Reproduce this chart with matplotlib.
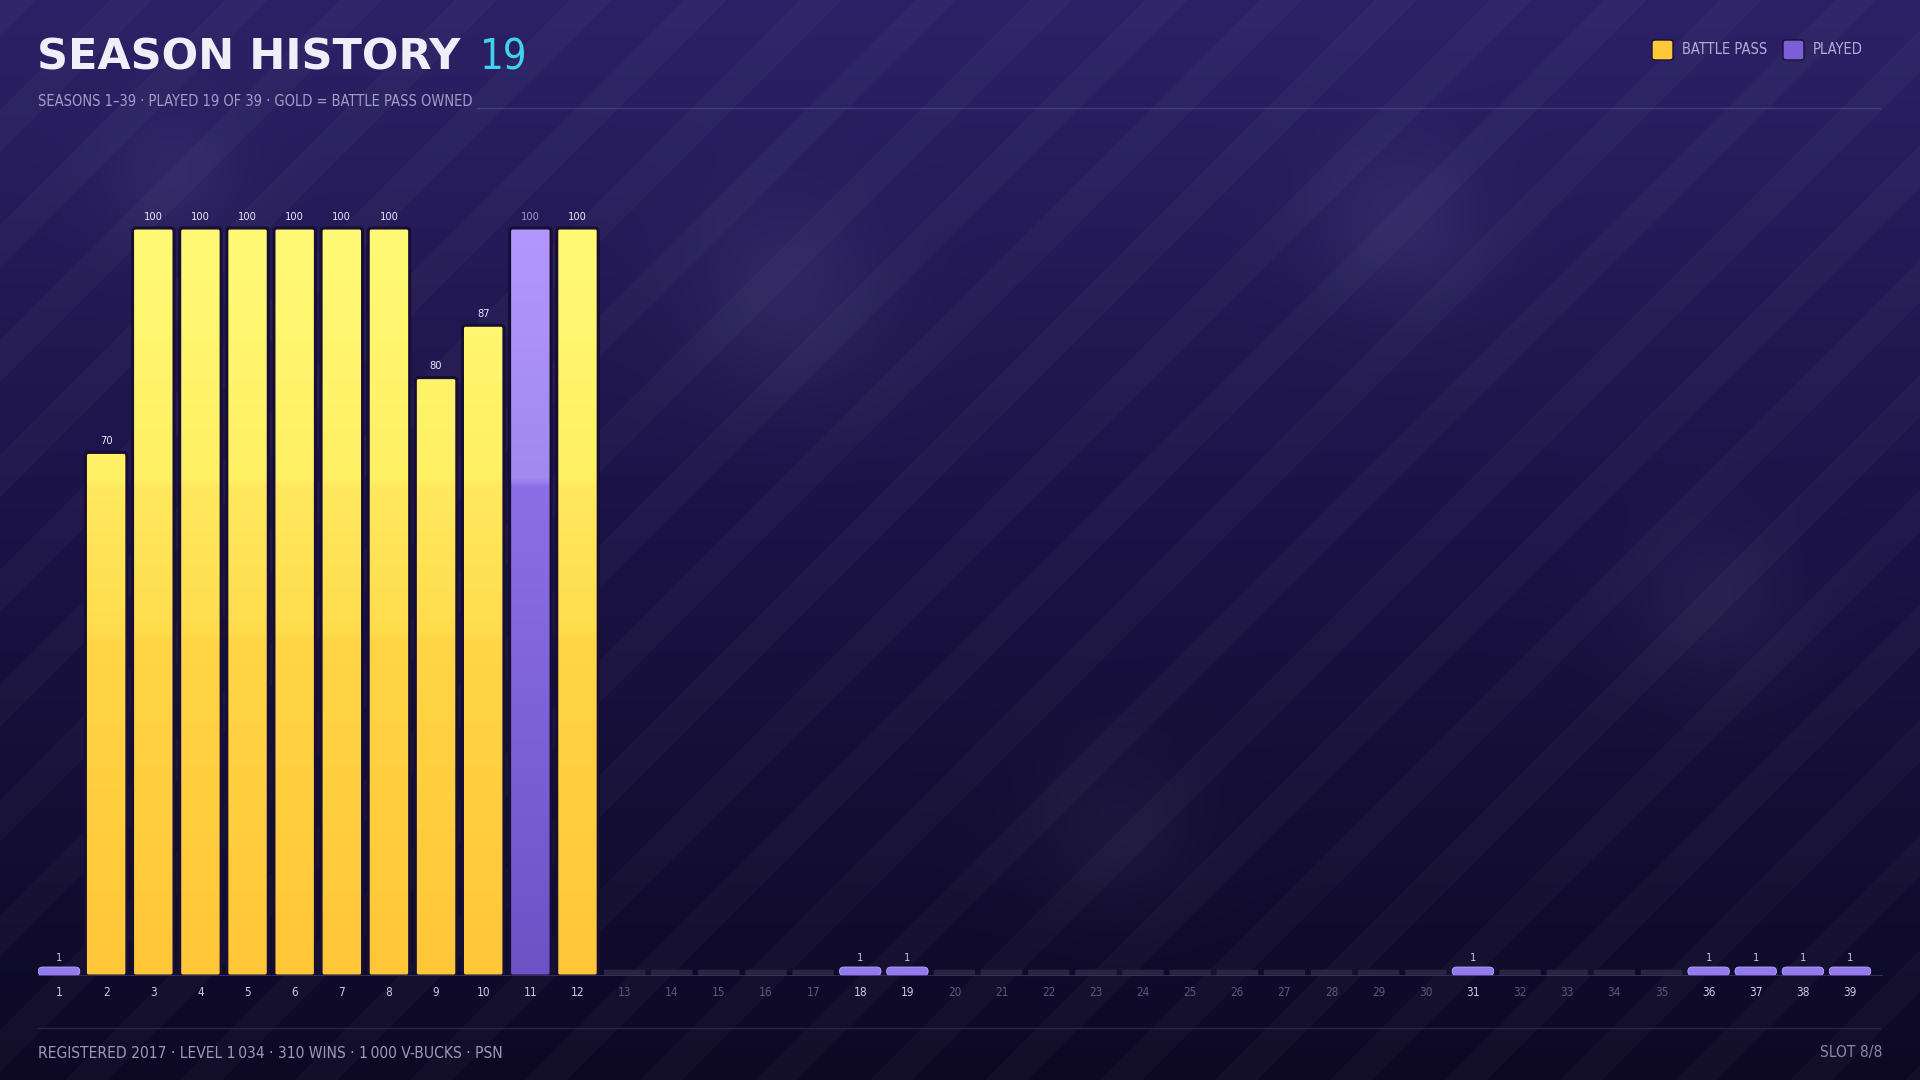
import numpy as np
import matplotlib.pyplot as plt
from matplotlib.patches import FancyBboxPatch, Polygon
from matplotlib.colors import LinearSegmentedColormap

# ---- data ----
seasons = list(range(1, 40))
progress = [1, 70, 100, 100, 100, 100, 100, 100, 80, 87, 100, 100,
            0, 0, 0, 0, 0, 1, 1, 0, 0, 0, 0, 0, 0, 0, 0, 0, 0, 0,
            1, 0, 0, 0, 0, 1, 1, 1, 1]
battle_pass = [2, 3, 4, 5, 6, 7, 8, 9, 10, 12]

title = "SEASON HISTORY"
played_count = sum(1 for v in progress if v > 0)
subtitle = "SEASONS 1\u201339 \u00b7 PLAYED %d OF 39 \u00b7 GOLD = BATTLE PASS OWNED" % played_count
footer = "REGISTERED 2017 \u00b7 LEVEL 1\u2009034 \u00b7 310 WINS \u00b7 1\u2009000 V-BUCKS \u00b7 PSN"
slot = "SLOT 8/8"

NARROW = dict(family='DejaVu Sans', stretch='condensed')
W, H = 1920, 1080

fig = plt.figure(figsize=(19.2, 10.8), dpi=100)

# ---- background: vertical gradient, soft glows, diagonal stripes ----
bg = fig.add_axes([0, 0, 1, 1])
bg.set_xlim(0, W)
bg.set_ylim(0, H)
bg.axis('off')
yy, xx = np.mgrid[0:H:4, 0:W:4]
t = yy / H  # 0 bottom -> 1 top
top = np.array([44, 33, 102]) / 255
mid = np.array([27, 19, 70]) / 255
bot = np.array([13, 9, 36]) / 255
tt = t[..., None]
img = np.where(tt > 0.5, mid + (top - mid) * (tt - 0.5) / 0.5, bot + (mid - bot) * tt / 0.5)
for cx, cy, r, a in [(785, 780, 70, 0.05), (1400, 850, 60, 0.05), (1710, 475, 60, 0.04),
                     (1115, 245, 60, 0.035), (170, 900, 50, 0.04)]:
    g = np.exp(-((xx - cx) ** 2 + (yy - cy) ** 2) / (2 * r * r))
    img = img + a * g[..., None]
img = np.clip(img, 0, 1)
bg.imshow(img[::-1], extent=(0, W, 0, H), aspect='auto', zorder=0)
for x0 in range(-1200, 2000, 115):
    bg.add_patch(Polygon([(x0, 0), (x0 + 42, 0), (x0 + 42 + H, H), (x0 + H, H)],
                         closed=True, facecolor='white', alpha=0.028, lw=0, zorder=1))

# ---- header ----
fig.text(37 / W, 1 - 57 / H, title, fontsize=31, fontweight='heavy', color='#f2eef9',
         family='DejaVu Sans', va='center', ha='left')
fig.text(480 / W, 1 - 57 / H, str(played_count), fontsize=30, color='#3fd3ee',
         va='center', ha='left', **NARROW)
sub = fig.text(38 / W, 1 - 101 / H, subtitle, fontsize=10.5, color='#a49cc6',
               va='center', ha='left', **NARROW)

# legend
leg = [('#ffc83a', 'BATTLE PASS', 1652), ('#7a5fd8', 'PLAYED', 1783)]
for col, lab, px in leg:
    fig.patches.append(FancyBboxPatch((px / W, 1 - 60 / H), 21 / W, 20 / H,
                                      boxstyle='round,pad=0,rounding_size=0.002',
                                      transform=fig.transFigure, facecolor=col,
                                      edgecolor='#1a1030', lw=1))
    fig.text((px + 30) / W, 1 - 50 / H, lab, fontsize=10.5, color='#b4acd6',
             va='center', ha='left', **NARROW)

# ---- footer ----
fig.add_artist(plt.Line2D([38 / W, 1880 / W], [1 - 1028 / H, 1 - 1028 / H],
                          color='#2a2448', lw=1))
fig.text(38 / W, 1 - 1053 / H, footer, fontsize=11.2, color='#9e97bd',
         va='center', ha='left', **NARROW)
fig.text(1882 / W, 1 - 1053 / H, slot, fontsize=11.2, color='#8d86ad',
         va='center', ha='right', **NARROW)

# ---- main chart ----
ymax = 110
left_px, right_px, base_px = 38, 1883, 976
ax = fig.add_axes([left_px / W, 1 - base_px / H, (right_px - left_px) / W, ymax * 7.48 / H])
ax.patch.set_alpha(0)
xl = (0.554, 39.7)
px_per_x = (right_px - left_px) / (xl[1] - xl[0])
px_per_y = 7.48
aspect = px_per_x / px_per_y
bw = 0.88

gold = LinearSegmentedColormap.from_list('gold', [(0, '#ffc638'), (0.45, '#ffd646'),
                                                   (0.46, '#ffdc4d'), (0.655, '#ffe95e'),
                                                   (0.665, '#fff064'), (1, '#fffa76')])
violet = LinearSegmentedColormap.from_list('violet', [(0, '#6d52c6'), (0.655, '#8c6fe6'),
                                                       (0.665, '#a089f0'), (1, '#b397ff')])
grad = np.linspace(0, 1, 256)[::-1].reshape(-1, 1)

for s, v in zip(seasons, progress):
    x0 = s - bw / 2
    if v >= 5:
        cmap = gold if s in battle_pass else violet
        patch = FancyBboxPatch((x0, 0), bw, v, boxstyle='round,pad=0,rounding_size=0.07',
                               mutation_aspect=aspect, facecolor='none',
                               edgecolor='#170e33', lw=2.2, zorder=4)
        ax.add_patch(patch)
        im = ax.imshow(grad[int(256 * (1 - v / 100)):], extent=(x0, x0 + bw, 0, v),
                       cmap=cmap, vmin=0, vmax=1, aspect='auto', zorder=3)
        im.set_clip_path(patch)
        lab_col = '#9e95c8' if s not in battle_pass else '#ece8fa'
        ax.annotate(str(v), (s, v), xytext=(0, 8), textcoords='offset points',
                    ha='center', va='center', fontsize=8, color=lab_col, **NARROW)
    elif v > 0:
        ax.add_patch(FancyBboxPatch((x0, 0.05), bw, 1.15,
                                    boxstyle='round,pad=0,rounding_size=0.09',
                                    mutation_aspect=aspect, facecolor='#9479f0',
                                    edgecolor='#b9a6ff', lw=0.6, zorder=3))
        ax.annotate(str(v), (s, 1.2), xytext=(0, 6.5), textcoords='offset points',
                    ha='center', va='center', fontsize=8, color='#c9c3e2', **NARROW)
    else:
        ax.add_patch(FancyBboxPatch((x0, 0.05), bw, 0.8,
                                    boxstyle='round,pad=0,rounding_size=0.03',
                                    mutation_aspect=aspect, facecolor='#29243f',
                                    edgecolor='none', zorder=3))

ax.axhline(0, color='#3b3560', lw=1.2, zorder=5)
ax.set_xlim(*xl)
ax.set_ylim(0, ymax)
ax.set_xticks(seasons)
ax.set_xticklabels([str(s) for s in seasons], fontsize=8.5, **NARROW)
for lab, v in zip(ax.get_xticklabels(), progress):
    lab.set_color('#cfc9e6' if v > 0 else '#5d5680')
ax.tick_params(axis='x', length=0, pad=7.5)
ax.set_yticks([])
for sp in ax.spines.values():
    sp.set_visible(False)

# header rule starts just after the subtitle text
fig.canvas.draw()
sub_end = sub.get_window_extent().x1 + 4
fig.add_artist(plt.Line2D([sub_end / W, 1880 / W], [1 - 108 / H, 1 - 108 / H],
                          color='#4a4180', lw=1, alpha=0.8))

fig.savefig('out.png', dpi=100)
